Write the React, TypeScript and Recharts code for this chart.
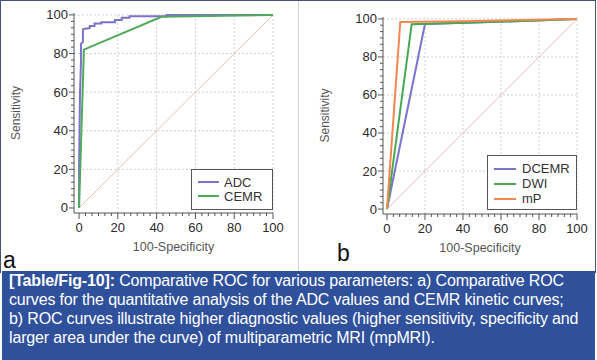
import { LineChart, Line, XAxis, YAxis, ReferenceLine, Legend } from "recharts";

// panel a
const adcX = [0, 0, 0.5, 1, 1, 2, 2, 3, 5.5, 5.5, 8, 8, 11.5, 11.5, 18.5, 18.5, 22, 22, 26, 26, 45, 45, 100];
const adcY = [0, 20, 60, 76, 85, 86, 92.5, 92.8, 93.2, 94.3, 94.3, 95.5, 95.5, 96.2, 96.2, 97.4, 97.4, 98.6, 98.6, 99.3, 99.3, 100, 100];
const cemrX = [0, 2.5, 42.5, 100];
const cemrY = [0, 82, 99, 100];

// panel b
const dcemrX = [0, 20, 50, 100];
const dcemrY = [0, 97.3, 98.2, 100];
const dwiX = [0, 13, 50, 100];
const dwiY = [0, 97.2, 98.2, 100];
const mpX = [0, 7, 40, 100];
const mpY = [0, 98.4, 98.8, 100];

const refX = [0, 100];
const refY = [0, 100];

const gridValues = [20, 40, 60, 80, 100];
const axisTicks = Array.from({ length: 31 }, (_, i) => (i * 20) / 6);

const zip = (xs: number[], ys: number[]) => xs.map((x, i) => ({ x, y: ys[i] }));

const isMajor = (v: number) => Math.abs(v / 20 - Math.round(v / 20)) < 1e-6;

const FONT = "'Liberation Sans', Arial, sans-serif";

const XTick = (props: any) => {
  const { x, y, payload } = props;
  const v = payload.value;
  const major = isMajor(v);
  return (
    <g>
      <line x1={x} x2={x} y1={y} y2={y + (major ? 6 : 3)} stroke="#555" />
      {major && (
        <text x={x} y={y + 19} textAnchor="middle" fontSize={13} fill="#2a2a2a" fontFamily={FONT}>
          {Math.round(v)}
        </text>
      )}
    </g>
  );
};

const YTick = (props: any) => {
  const { x, y, payload } = props;
  const v = payload.value;
  const major = isMajor(v);
  return (
    <g>
      <line x1={x - (major ? 5 : 3)} x2={x} y1={y} y2={y} stroke="#555" />
      {major && (
        <text x={x - 6} y={y + 4.5} textAnchor="end" fontSize={13} fill="#2a2a2a" fontFamily={FONT}>
          {Math.round(v)}
        </text>
      )}
    </g>
  );
};

const xTitle = (p: any) => {
  const vb = p.viewBox;
  return (
    <text x={vb.x + vb.width / 2} y={vb.y + 38} textAnchor="middle" fontSize={12.5} fill="#555" fontFamily={FONT}>
      100-Specificity
    </text>
  );
};

const yTitle = (p: any) => {
  const vb = p.viewBox;
  const cx = vb.x + vb.width - 57;
  const cy = vb.y + vb.height / 2;
  return (
    <text
      x={cx}
      y={cy}
      transform={`rotate(-90 ${cx} ${cy})`}
      textAnchor="middle"
      dominantBaseline="middle"
      fontSize={12}
      fill="#555"
      fontFamily={FONT}
    >
      Sensitivity
    </text>
  );
};

function makeLegend(rowH: number, lineW: number, gap: number) {
  return ({ payload }: any) => (
    <div
      style={{
        border: "1px solid #555",
        background: "#fff",
        boxSizing: "border-box",
        width: "100%",
        height: "100%",
        paddingTop: 5,
        paddingLeft: 6,
        fontFamily: FONT,
        fontSize: 13,
        color: "#333",
      }}
    >
      {(payload || [])
        .filter((p: any) => p.type !== "none" && p.value !== "y")
        .map((p: any) => (
          <div key={p.value} style={{ display: "flex", alignItems: "center", height: rowH }}>
            <span style={{ width: lineW, borderTop: `2px solid ${p.color}`, marginRight: gap }} />
            <span>{p.value}</span>
          </div>
        ))}
    </div>
  );
}

type Series = { name: string; xs: number[]; ys: number[]; color: string };

function RocPanel({
  series,
  margin,
  xDomain,
  legendBox,
  legendRow,
  legendLine,
  legendGap,
}: {
  series: Series[];
  margin: { top: number; right: number; bottom: number; left: number };
  xDomain: [number, number];
  legendBox: { left: number; top: number; width: number; height: number };
  legendRow: number;
  legendLine: number;
  legendGap: number;
}) {
  return (
    <LineChart width={298} height={268} margin={margin}>
      <XAxis
        type="number"
        dataKey="x"
        domain={xDomain}
        ticks={axisTicks}
        interval={0}
        tick={<XTick />}
        tickLine={false}
        tickSize={0}
        tickMargin={0}
        height={30}
        axisLine={{ stroke: "#555" }}
        label={xTitle}
      />
      <YAxis
        type="number"
        dataKey="y"
        domain={[-2.6, 101]}
        ticks={axisTicks}
        interval={0}
        tick={<YTick />}
        tickLine={false}
        tickSize={0}
        tickMargin={0}
        width={40}
        axisLine={{ stroke: "#555" }}
        label={yTitle}
      />
      {gridValues.map((v) => (
        <ReferenceLine key={"gx" + v} x={v} stroke="#cfcfcf" strokeDasharray="2 2" />
      ))}
      {gridValues.map((v) => (
        <ReferenceLine key={"gy" + v} y={v} stroke="#cfcfcf" strokeDasharray="2 2" />
      ))}
      <Line
        data={zip(refX, refY)}
        dataKey="y"
        type="linear"
        stroke="#ebbcbc"
        strokeWidth={1}
        dot={false}
        legendType="none"
        isAnimationActive={false}
      />
      {series.map((s) => (
        <Line
          key={s.name}
          name={s.name}
          data={zip(s.xs, s.ys)}
          dataKey="y"
          type="linear"
          stroke={s.color}
          strokeWidth={2}
          dot={false}
          isAnimationActive={false}
        />
      ))}
      <Legend
        layout="vertical"
        align="center"
        verticalAlign="middle"
        content={makeLegend(legendRow, legendLine, legendGap)}
        wrapperStyle={{ ...legendBox, position: "absolute" }}
      />
    </LineChart>
  );
}

export default function App() {
  return (
    <div
      style={{
        position: "absolute",
        left: 0,
        top: 0,
        width: 597,
        height: 360,
        background: "#fff",
        overflow: "hidden",
        fontFamily: FONT,
      }}
    >
      <div
        style={{
          position: "absolute",
          left: 0,
          top: 0,
          width: 594,
          height: 272,
          borderLeft: "1px solid #3d5674",
          borderTop: "1px solid #3d5674",
          borderRight: "1px solid #3d5674",
        }}
      />
      <div style={{ position: "absolute", left: 298, top: 1, width: 1, height: 270, background: "#c9d1da" }} />

      <div style={{ position: "absolute", left: 0, top: 0 }}>
        <RocPanel
          series={[
            { name: "ADC", xs: adcX, ys: adcY, color: "#7c73cc" },
            { name: "CEMR", xs: cemrX, ys: cemrY, color: "#4fab58" },
          ]}
          margin={{ top: 13, right: 25, bottom: 25, left: 34 }}
          xDomain={[-2.6, 100]}
          legendBox={{ left: 191, top: 169, width: 82, height: 41 }}
          legendRow={14}
          legendLine={21}
          legendGap={5}
        />
      </div>
      <div style={{ position: "absolute", left: 299, top: 0 }}>
        <RocPanel
          series={[
            { name: "DCEMR", xs: dcemrX, ys: dcemrY, color: "#7a74d0" },
            { name: "DWI", xs: dwiX, ys: dwiY, color: "#45a852" },
            { name: "mP", xs: mpX, ys: mpY, color: "#f2884e" },
          ]}
          margin={{ top: 17, right: 20, bottom: 24, left: 44 }}
          xDomain={[-2.1, 100]}
          legendBox={{ left: 188, top: 155, width: 90, height: 55 }}
          legendRow={15}
          legendLine={22}
          legendGap={6}
        />
      </div>

      <div style={{ position: "absolute", left: 3, top: 248, fontSize: 23, color: "#111", lineHeight: "24px" }}>a</div>
      <div style={{ position: "absolute", left: 337, top: 241, fontSize: 23, color: "#111", lineHeight: "24px" }}>b</div>

      <div
        style={{
          position: "absolute",
          left: 2,
          top: 271,
          width: 593,
          height: 89,
          background: "#2f509b",
          color: "#fff",
          fontSize: 16,
          lineHeight: "19px",
          padding: "0 0 0 7px",
          boxSizing: "border-box",
          whiteSpace: "nowrap",
          letterSpacing: "-0.15px",
        }}
      >
        <div>
          <b>[Table/Fig-10]:</b> Comparative ROC for various parameters: a) Comparative ROC
        </div>
        <div>curves for the quantitative analysis of the ADC values and CEMR kinetic curves;</div>
        <div>b) ROC curves illustrate higher diagnostic values (higher sensitivity, specificity and</div>
        <div>larger area under the curve) of multiparametric MRI (mpMRI).</div>
      </div>
    </div>
  );
}
